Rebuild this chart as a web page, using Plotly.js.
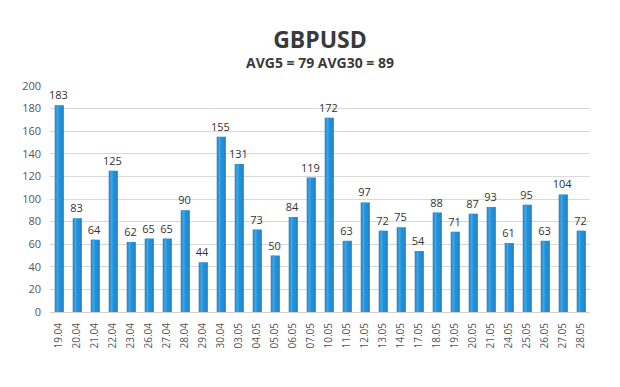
<!DOCTYPE html>
<html>
<head>
<meta charset="utf-8">
<script src="https://cdn.plot.ly/plotly-3.0.1.min.js"></script>
<style>
html,body{margin:0;padding:0;background:#fff;}
#chart{width:620px;height:387px;outline:1px solid #d4d4d4;outline-offset:-2px;}
</style>
</head>
<body>
<div id="chart"></div>
<script>
var categories = ["19.04","20.04","21.04","22.04","23.04","26.04","27.04","28.04","29.04","30.04",
  "03.05","04.05","05.05","06.05","07.05","10.05","11.05","12.05","13.05","14.05",
  "17.05","18.05","19.05","20.05","21.05","24.05","25.05","26.05","27.05","28.05"];
var values = [183,83,64,125,62,65,65,90,44,155,
  131,73,50,84,119,172,63,97,72,75,
  54,88,71,87,93,61,95,63,104,72];
var chartTitle = "GBPUSD";
var subTitle = "AVG5 = 79 AVG30 = 89";
var yTicks = [0,20,40,60,80,100,120,140,160,180,200];

var FONT = "Open Sans, Liberation Sans, sans-serif";

var front = {
  type:'bar', x:categories, y:values, width:0.42, offset:-0.24,
  marker:{color:'#1e8fd8', line:{width:0}},
  text:values.map(String), textposition:'outside', cliponaxis:false, constraintext:'none',
  textfont:{family:FONT, size:11, color:'#333'},
  hoverinfo:'x+y', showlegend:false
};
var highlight = {
  type:'bar', x:categories, y:values, width:0.12, offset:-0.14,
  marker:{color:'#3aa6ea', line:{width:0}}, hoverinfo:'skip', showlegend:false
};
var side = {
  type:'bar', x:categories, y:values, width:0.08, offset:0.18,
  marker:{color:'#0d5e9c', line:{width:0}}, hoverinfo:'skip', showlegend:false
};

var layout = {
  width:620, height:387,
  margin:{l:50, r:30, t:86, b:75},
  paper_bgcolor:'#ffffff', plot_bgcolor:'#ffffff',
  barmode:'overlay',
  title:{text:'<b>'+chartTitle+'</b>', x:0.5, xanchor:'center', xref:'paper',
    y:1-40/387, yref:'container', yanchor:'middle',
    font:{family:FONT, size:23, color:'#3a3a3a'}},
  annotations:[{text:'<b>'+subTitle+'</b>', xref:'paper', yref:'paper', x:0.5, y:(312-62)/226,
    xanchor:'center', yanchor:'middle', showarrow:false,
    font:{family:FONT, size:14, color:'#3a3a3a'}}],
  xaxis:{type:'category', tickangle:-90, tickfont:{family:FONT, size:10, color:'#555'},
    showgrid:false, showline:true, linecolor:'#d0d0d0', ticks:'', ticklabelstandoff:6},
  yaxis:{range:[0,200], tickvals:yTicks, ticktext:yTicks.map(String),
    tickfont:{family:FONT, size:11, color:'#555'}, gridcolor:'#d9d9d9', gridwidth:1,
    zeroline:false, showline:false, ticks:'', ticklabelstandoff:8},
  bargap:0.5
};
Plotly.newPlot('chart',[front, highlight, side], layout, {staticPlot:true});
</script>
</body>
</html>
